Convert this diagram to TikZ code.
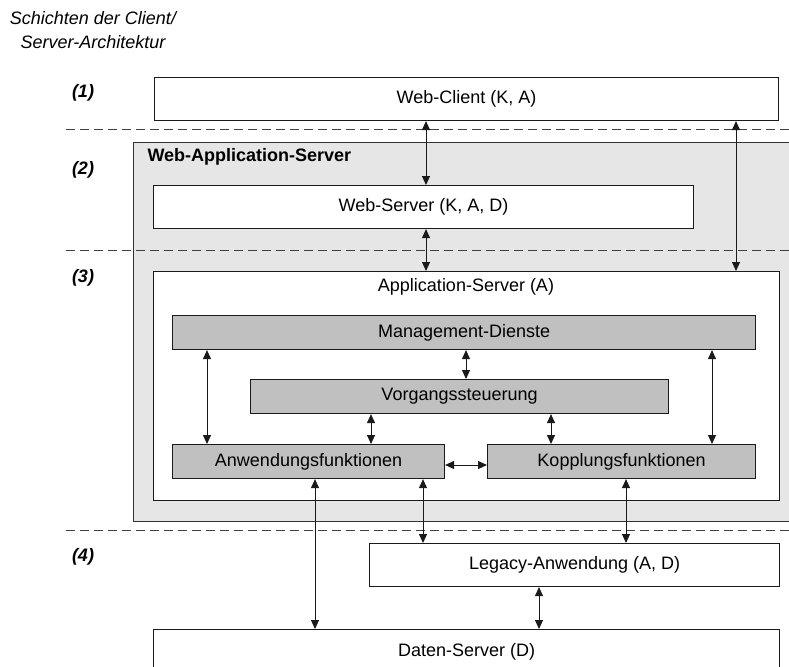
\documentclass[tikz,border=0pt]{standalone}
\usepackage{fontspec}
\setmainfont{Liberation Sans}
\usetikzlibrary{arrows.meta}
\definecolor{outergray}{HTML}{E6E6E6}
\definecolor{innergray}{HTML}{C0C0C0}
\definecolor{edge}{HTML}{1A1A1A}
\begin{document}
\begin{tikzpicture}[x=1pt,y=-1pt,
  font=\fontsize{18}{22}\selectfont,
  box/.style={draw=edge, line width=1.1pt, fill=white, inner sep=0pt, anchor=north west},
  graybox/.style={box, fill=innergray},
  arr/.style={{Triangle[length=9pt,width=8pt]}-{Triangle[length=9pt,width=8pt]}, line width=1pt, draw=edge},
  sepline/.style={dash pattern=on 9pt off 5pt, line width=0.9pt, draw=black!75},
  layerlabel/.style={font=\fontsize{18}{22}\selectfont\bfseries\itshape}]
\useasboundingbox (0,0) rectangle (789,666);
\clip (0,0) rectangle (789,666);

% title
\node[align=center, font=\fontsize{18}{24}\selectfont\itshape] (title) at (93,30) {Schichten der Client/\\Server-Architektur};

% layer labels
\node[layerlabel] (l1) at (83,93) {(1)};
\node[layerlabel] (l2) at (83,170) {(2)};
\node[layerlabel] (l3) at (83,278) {(3)};
\node[layerlabel] (l4) at (83,557) {(4)};

% boxes
\node[box, minimum width=624pt, minimum height=43pt] (wc) at (154,77) {Web-Client (K, A)};
\node[box, fill=outergray, draw=black!80, minimum width=690pt, minimum height=379pt] (was) at (133,142) {};
\node[anchor=west, font=\fontsize{18}{22}\selectfont\bfseries] (wastext) at (144,157) {Web-Application-Server};
\node[box, minimum width=540pt, minimum height=43pt] (ws) at (153,185) {Web-Server (K, A, D)};
\node[box, minimum width=626pt, minimum height=229pt] (as) at (153,271) {};
\node (astext) at (466,287) {Application-Server (A)};
\node[graybox, minimum width=583pt, minimum height=34pt] (md) at (172,315) {Management-Dienste};
\node[graybox, minimum width=418pt, minimum height=34pt] (vs) at (250,379) {Vorgangssteuerung};
\node[graybox, minimum width=272pt, minimum height=34pt] (af) at (172,444) {Anwendungsfunktionen};
\node[graybox, minimum width=268pt, minimum height=34pt] (kf) at (487,444) {Kopplungsfunktionen};
\node[box, minimum width=410pt, minimum height=43pt] (la) at (369,543) {Legacy-Anwendung (A, D)};
\node[box, minimum width=626pt, minimum height=44pt] (ds) at (153,629) {Daten-Server (D)};

% separator lines
\draw[sepline] (66,129) -- (789,129);
\draw[sepline] (66,250) -- (789,250);
\draw[sepline] (66,530) -- (789,530);

% column coordinates
\coordinate (c207) at (207,0);
\coordinate (c315) at (315,0);
\coordinate (c371) at (371,0);
\coordinate (c423) at (423,0);
\coordinate (c426) at (426,0);
\coordinate (c466) at (466,0);
\coordinate (c539) at (539,0);
\coordinate (c551) at (551,0);
\coordinate (c626) at (626,0);
\coordinate (c712) at (712,0);
\coordinate (c736) at (736,0);
\coordinate (h465) at (0,465);

% connectors
\draw[arr] (c426 |- wc.south) -- (c426 |- ws.north);
\draw[arr] (c426 |- ws.south) -- (c426 |- as.north);
\draw[arr] (c736 |- wc.south) -- (c736 |- as.north);
\draw[arr] (c207 |- md.south) -- (c207 |- af.north);
\draw[arr] (c466 |- md.south) -- (c466 |- vs.north);
\draw[arr] (c712 |- md.south) -- (c712 |- kf.north);
\draw[arr] (c371 |- vs.south) -- (c371 |- af.north);
\draw[arr] (c551 |- vs.south) -- (c551 |- kf.north);
\draw[arr] (af.east |- h465) -- (kf.west |- h465);
\draw[arr] (c315 |- af.south) -- (c315 |- ds.north);
\draw[arr] (c423 |- af.south) -- (c423 |- la.north);
\draw[arr] (c626 |- kf.south) -- (c626 |- la.north);
\draw[arr] (c539 |- la.south) -- (c539 |- ds.north);
\end{tikzpicture}
\end{document}
